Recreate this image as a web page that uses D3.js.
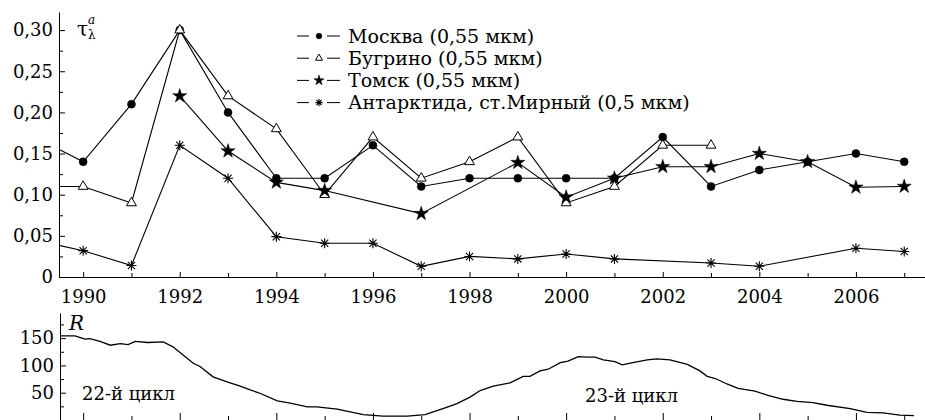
<!DOCTYPE html>
<html>
<head>
<meta charset="utf-8">
<script src="https://cdn.jsdelivr.net/npm/d3@7"></script>
</head>
<body style="margin:0;background:#fff">
<div id="chart"></div>
<script>
// Aerosol optical depth by year
const years = [1989, 1990, 1991, 1992, 1993, 1994, 1995, 1996, 1997, 1998, 1999, 2000, 2001, 2002, 2003, 2004, 2005, 2006, 2007];
const moscow = [0.17, 0.14, 0.21, 0.30, 0.20, 0.12, 0.12, 0.16, 0.11, 0.12, 0.12, 0.12, 0.12, 0.17, 0.11, 0.13, 0.14, 0.15, 0.14];
const bugrino = [0.11, 0.11, 0.09, 0.30, 0.22, 0.18, 0.10, 0.17, 0.12, 0.14, 0.17, 0.09, 0.11, 0.16, 0.16, null, null, null, null];
const tomsk = [null, null, null, 0.22, 0.153, 0.115, 0.105, null, 0.077, null, 0.139, 0.097, 0.12, 0.134, 0.134, 0.15, 0.14, 0.109, 0.11];
const mirny = [0.045, 0.032, 0.014, 0.16, 0.12, 0.049, 0.041, 0.041, 0.013, 0.025, 0.022, 0.028, 0.022, null, 0.017, 0.013, null, 0.035, 0.031];

const seriesNames = ["Москва (0,55 мкм)", "Бугрино (0,55 мкм)", "Томск (0,55 мкм)", "Антарктида, ст.Мирный (0,5 мкм)"];
const seriesMarkers = ["circle", "triangle", "star", "asterisk"];

// Tick labels
const yTicks = [0, 0.05, 0.10, 0.15, 0.20, 0.25, 0.30];
const yMinorTicks = [0.025, 0.075, 0.125, 0.175, 0.225, 0.275];
const yearLabels = [1990, 1992, 1994, 1996, 1998, 2000, 2002, 2004, 2006];
const yearMinor = [1991, 1993, 1995, 1997, 1999, 2001, 2003, 2005, 2007];
const rTicks = [50, 100, 150];
const rMinorTicks = [25, 75, 125, 175];

// Smoothed sunspot number R (time, value)
const rYears = [1989.52, 1989.83, 1990.04, 1990.14, 1990.35, 1990.56, 1990.77, 1990.93, 1991.08, 1991.33, 1991.66, 1991.86,
  1992.07, 1992.28, 1992.42, 1992.69, 1992.98, 1993.25, 1993.46, 1993.66, 1994.02, 1994.29, 1994.64, 1994.84, 1995.26, 1995.80,
  1996.21, 1996.71, 1997.08, 1997.45, 1997.74, 1998.01, 1998.22, 1998.49, 1998.84, 1999.11, 1999.25, 1999.46, 1999.63, 1999.88,
  2000.04, 2000.25, 2000.43, 2000.60, 2000.77, 2001.01, 2001.16, 2001.33, 2001.68, 2001.88, 2002.15, 2002.51, 2002.77, 2002.92,
  2003.09, 2003.33, 2003.56, 2003.91, 2004.18, 2004.49, 2004.78, 2005.11, 2005.40, 2005.88, 2006.23, 2006.56, 2006.91, 2007.20];
const rValues = [154, 154, 148, 149, 144, 137, 140, 138, 144, 142, 143, 134,
  119, 104, 98, 79, 70, 62, 55, 49, 35, 31, 24, 24, 20, 10,
  7, 7, 10, 21, 30, 42, 54, 62, 68, 80, 80, 90, 93, 105,
  108, 116, 115, 115, 110, 107, 101, 104, 110, 112, 110, 102, 90, 80,
  76, 66, 58, 53, 45, 38, 34, 32, 27, 21, 14, 13, 9, 8];

const width = 925;
const height = 420;
const fontFamily = "'DejaVu Serif', 'Liberation Serif', serif";

const svg = d3.select("#chart")
  .append("svg")
  .attr("width", width)
  .attr("height", height)
  .attr("font-family", fontFamily);

// shared x scale for both panels
const x = d3.scaleLinear().domain([1989.5, 2007.43]).range([59, 925]);

drawTopPanel();
drawBottomPanel();

function fmtTau(d) {
  return d === 0 ? "0" : d3.format(".2f")(d).replace(".", ",");
}

// marker shapes
function markerPath(type, s) {
  if (type === "circle") return d3.symbol(d3.symbolCircle, 50 * s * s)();
  if (type === "triangle") return d3.symbol(d3.symbolTriangle, 42 * s * s)();
  if (type === "star") return d3.symbol(d3.symbolStar, 62 * s * s)();
  const r = 5 * s, q = r * 0.72;
  return "M" + (-r) + ",0L" + r + ",0M0," + (-r) + "L0," + r +
    "M" + (-q) + "," + (-q) + "L" + q + "," + q + "M" + (-q) + "," + q + "L" + q + "," + (-q);
}

function styleMarker(sel, type) {
  sel.attr("fill", type === "triangle" ? "#fff" : (type === "asterisk" ? "none" : "#000"))
    .attr("stroke", "#000")
    .attr("stroke-width", type === "triangle" ? 1 : (type === "asterisk" ? 1.1 : 0.5));
}

// axis text in the serif face, lines in black
function styleAxis(a) {
  a.attr("font-family", fontFamily);
  a.selectAll("text").attr("font-size", 18).attr("fill", "#000");
  a.selectAll("line").attr("stroke", "#000");
  a.selectAll(".domain").attr("stroke", "#000");
}

function drawTopPanel() {
  const y = d3.scaleLinear().domain([0, 0.322]).range([277, 12]);
  const g = svg.append("g");

  g.append("clipPath").attr("id", "clipTop")
    .append("rect").attr("x", 59).attr("y", 0).attr("width", 866).attr("height", 280);

  // x axis
  g.append("g")
    .attr("transform", "translate(0,277)")
    .call(d3.axisBottom(x).tickValues(yearLabels).tickFormat(d3.format("d"))
      .tickSizeInner(-5).tickSizeOuter(0).tickPadding(13))
    .call(styleAxis);
  g.append("g")
    .attr("transform", "translate(0,277)")
    .call(d3.axisBottom(x).tickValues(yearMinor).tickFormat("")
      .tickSizeInner(-4).tickSizeOuter(0))
    .call(a => a.select(".domain").remove())
    .call(styleAxis);

  // y axis
  g.append("g")
    .attr("transform", "translate(59,0)")
    .call(d3.axisLeft(y).tickValues(yTicks).tickFormat(fmtTau)
      .tickSizeInner(-6).tickSizeOuter(0).tickPadding(6))
    .call(styleAxis);
  g.append("g")
    .attr("transform", "translate(59,0)")
    .call(d3.axisLeft(y).tickValues(yMinorTicks).tickFormat("")
      .tickSizeInner(-4).tickSizeOuter(0))
    .call(a => a.select(".domain").remove())
    .call(styleAxis);

  // axis label tau
  g.append("text").attr("x", 77).attr("y", 36).attr("font-size", 20).text("τ");
  g.append("text").attr("x", 88).attr("y", 24).attr("font-size", 12).attr("font-style", "italic").text("a");
  g.append("text").attr("x", 88).attr("y", 39).attr("font-size", 12).text("λ");

  // series
  const allSeries = [moscow, bugrino, tomsk, mirny];
  const line = d3.line().x(d => x(d.year)).y(d => y(d.value));
  const plot = g.append("g").attr("clip-path", "url(#clipTop)");

  allSeries.forEach((vals, i) => {
    const pts = years.map((yr, j) => ({ year: yr, value: vals[j] })).filter(d => d.value !== null);
    plot.append("path")
      .datum(pts)
      .attr("d", line)
      .attr("fill", "none")
      .attr("stroke", "#000")
      .attr("stroke-width", 1.1);
  });

  allSeries.forEach((vals, i) => {
    const pts = years.map((yr, j) => ({ year: yr, value: vals[j] })).filter(d => d.value !== null);
    plot.selectAll(".m" + i)
      .data(pts)
      .enter()
      .append("path")
      .attr("class", "m" + i)
      .attr("transform", d => "translate(" + x(d.year) + "," + y(d.value) + ")")
      .attr("d", markerPath(seriesMarkers[i], 1))
      .call(s => styleMarker(s, seriesMarkers[i]));
  });

  // legend
  const legend = g.selectAll(".legend")
    .data(seriesNames)
    .enter()
    .append("g")
    .attr("class", "legend")
    .attr("transform", (d, i) => "translate(0," + (36 + 22.2 * i) + ")");

  legend.append("line").attr("x1", 297).attr("x2", 309).attr("y1", 0).attr("y2", 0).attr("stroke", "#000");
  legend.append("line").attr("x1", 327).attr("x2", 340).attr("y1", 0).attr("y2", 0).attr("stroke", "#000");
  legend.append("path")
    .attr("transform", "translate(319,0)")
    .attr("d", (d, i) => markerPath(seriesMarkers[i], 0.72))
    .each(function (d, i) { styleMarker(d3.select(this), seriesMarkers[i]); });
  legend.append("text")
    .attr("x", 348)
    .attr("y", 6.5)
    .attr("font-size", 19)
    .text(d => d);
}

function drawBottomPanel() {
  const y = d3.scaleLinear().domain([0, 196]).range([420, 313]);
  const g = svg.append("g");

  g.append("g")
    .attr("transform", "translate(0,420)")
    .call(d3.axisBottom(x).tickValues(yearLabels).tickFormat("")
      .tickSizeInner(-7).tickSizeOuter(0))
    .call(styleAxis);
  g.append("g")
    .attr("transform", "translate(0,420)")
    .call(d3.axisBottom(x).tickValues(yearMinor).tickFormat("")
      .tickSizeInner(-4).tickSizeOuter(0))
    .call(a => a.select(".domain").remove())
    .call(styleAxis);

  g.append("g")
    .attr("transform", "translate(60,0)")
    .call(d3.axisLeft(y).tickValues(rTicks)
      .tickSizeInner(-6).tickSizeOuter(0).tickPadding(6))
    .call(styleAxis);
  g.append("g")
    .attr("transform", "translate(60,0)")
    .call(d3.axisLeft(y).tickValues(rMinorTicks).tickFormat("")
      .tickSizeInner(-4).tickSizeOuter(0))
    .call(a => a.select(".domain").remove())
    .call(styleAxis);

  g.append("text")
    .attr("x", 69).attr("y", 330)
    .attr("font-size", 20).attr("font-style", "italic")
    .text("R");

  const pts = rYears.map((t, i) => ({ t: t, r: rValues[i] }));
  g.append("path")
    .datum(pts)
    .attr("d", d3.line().x(d => x(d.t)).y(d => y(d.r)))
    .attr("fill", "none")
    .attr("stroke", "#000")
    .attr("stroke-width", 1.3);

  g.append("text").attr("x", 82).attr("y", 400).attr("font-size", 18).text("22-й цикл");
  g.append("text").attr("x", 585).attr("y", 402).attr("font-size", 18).text("23-й цикл");
}
</script>
</body>
</html>
